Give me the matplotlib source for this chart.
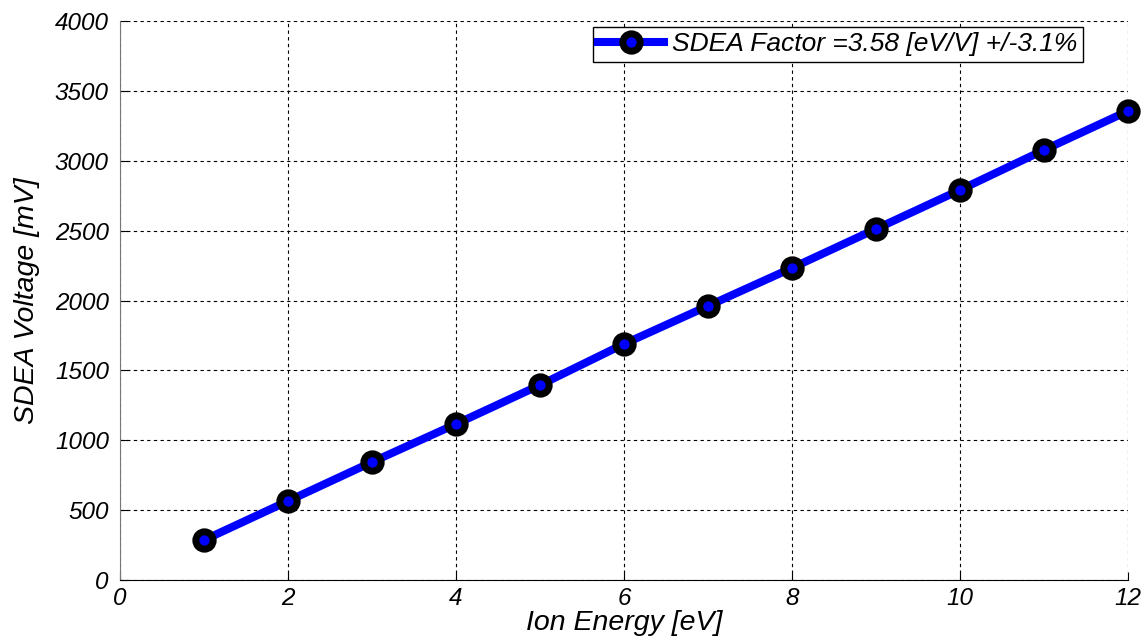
import matplotlib
matplotlib.use("Agg")
import matplotlib.pyplot as plt

ion_energy = [1, 2, 3, 4, 5, 6, 7, 8, 9, 10, 11, 12]
sdea_voltage = [286, 565, 844, 1116, 1395, 1689, 1961, 2233, 2512, 2791, 3077, 3356]
legend_label = "SDEA Factor =3.58 [eV/V] +/-3.1%"
x_ticks = [0, 2, 4, 6, 8, 10, 12]
y_ticks = [0, 500, 1000, 1500, 2000, 2500, 3000, 3500, 4000]

plt.rcParams['font.family'] = ['Liberation Sans', 'DejaVu Sans']

fig = plt.figure(figsize=(11.46, 6.43), dpi=100)
ax = fig.add_axes([120 / 1146, 1 - 580 / 643, (1128 - 120) / 1146, (580 - 21) / 643])

ax.plot(ion_energy, sdea_voltage, color='#0000ff', lw=5.8, marker='o',
        markersize=12.5, markerfacecolor='#0000ff', markeredgecolor='black',
        markeredgewidth=5, label=legend_label, zorder=3, clip_on=False)

ax.set_xlim(0, 12)
ax.set_ylim(0, 4000)
ax.set_xticks(x_ticks)
ax.set_yticks(y_ticks)
ax.grid(True, color='black', linestyle=(0, (3, 3)), linewidth=0.8)

for s in ['top', 'right']:
    ax.spines[s].set_visible(False)
ax.spines['left'].set_color('#777777')
ax.spines['bottom'].set_color('black')
ax.tick_params(direction='in', length=6, labelsize=17.5)
ax.tick_params(axis='y', pad=8)
ax.tick_params(axis='x', pad=5)
for lab in ax.get_xticklabels() + ax.get_yticklabels():
    lab.set_fontstyle('italic')

ax.set_xlabel('Ion Energy [eV]', fontsize=20.5, style='italic', labelpad=0)
ax.set_ylabel('SDEA Voltage [mV]', fontsize=20.5, style='italic')
ax.yaxis.set_label_coords(-80 / 1008, 0.5)

leg = ax.legend(loc='upper right', bbox_to_anchor=(1083 / 1146, 1 - 27 / 643),
                bbox_transform=fig.transFigure, fancybox=False, framealpha=1,
                edgecolor='black', fontsize=19, handlelength=2.5,
                borderpad=0.2, handletextpad=0.3, borderaxespad=0)
leg.get_frame().set_linewidth(1.0)
for t in leg.get_texts():
    t.set_fontstyle('italic')

fig.savefig('out.png', dpi=100)
